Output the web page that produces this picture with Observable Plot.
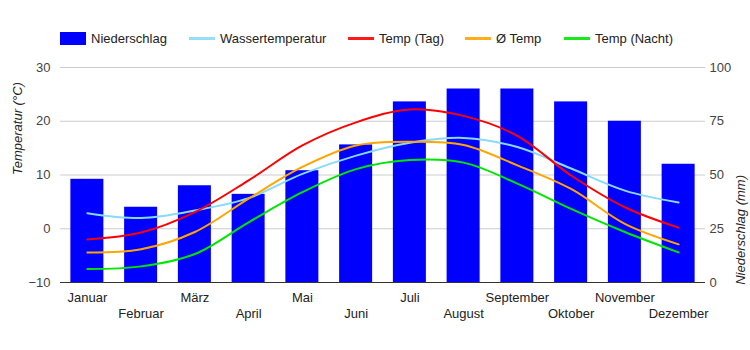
<!DOCTYPE html>
<html>
<head>
<meta charset="utf-8">
<script src="https://cdn.jsdelivr.net/npm/d3@7"></script>
<script src="https://cdn.jsdelivr.net/npm/@observablehq/plot@0.6"></script>
<style>
  body { margin: 0; background: #fff; font-family: "Liberation Sans", Arial, sans-serif; }
  #legend { position: relative; height: 50px; width: 750px; }
  .item { position: absolute; top: 30px; height: 16px; display: flex; align-items: center; font-size: 13px; color: #222; white-space: nowrap; }
  .sw { display: inline-block; width: 26px; margin-right: 5px; }
</style>
</head>
<body>
<div id="legend"></div>
<div id="chart"></div>
<script>
const months = ["Januar","Februar","März","April","Mai","Juni","Juli","August","September","Oktober","November","Dezember"];
const niederschlag = [48, 35, 45, 41, 52, 64, 84, 90, 90, 84, 75, 55];
const wassertemperatur = [2.9, 2.0, 3.4, 5.7, 10.2, 13.6, 16.0, 16.9, 15.2, 11.2, 7.1, 4.9];
const tempTag = [-2.0, -0.7, 3.1, 9.0, 15.5, 19.8, 22.2, 21.0, 17.3, 9.9, 4.0, 0.2];
const tempMittel = [-4.4, -3.8, -0.6, 5.6, 11.5, 15.5, 16.2, 15.6, 11.8, 7.4, 0.9, -2.9];
const tempNacht = [-7.5, -7.0, -4.7, 1.2, 6.8, 11.1, 12.8, 12.3, 8.4, 3.7, -0.6, -4.4];
const tempTicks = [-10, 0, 10, 20, 30];
const precipTicks = [0, 25, 50, 75, 100];

const seriesNames = ["Niederschlag", "Wassertemperatur", "Temp (Tag)", "Ø Temp", "Temp (Nacht)"];
const colors = ["#0000ff", "#88dafa", "#ff0000", "#ffa500", "#00e600"];

// legend
const legendX = [60, 189, 348, 465, 564];
const legend = document.getElementById("legend");
seriesNames.forEach((name, i) => {
  const it = document.createElement("div");
  it.className = "item";
  it.style.left = legendX[i] + "px";
  const sw = document.createElement("span");
  sw.className = "sw";
  sw.style.background = colors[i];
  sw.style.height = i === 0 ? "13px" : "3px";
  if (i > 0) sw.style.opacity = "0.9";
  it.appendChild(sw);
  it.appendChild(document.createTextNode(name));
  legend.appendChild(it);
});

// precip (0..100) mapped onto temperature axis (-10..30)
const toT = mm => -10 + mm * 0.4;
const bars = months.map((m, i) => ({month: m, v: toT(niederschlag[i])}));
const lineSeries = [
  {name: seriesNames[1], values: wassertemperatur, color: colors[1]},
  {name: seriesNames[2], values: tempTag, color: colors[2]},
  {name: seriesNames[3], values: tempMittel, color: colors[3]},
  {name: seriesNames[4], values: tempNacht, color: colors[4]}
];

const even = months.filter((d, i) => i % 2 === 0);
const odd = months.filter((d, i) => i % 2 === 1);

const chart = Plot.plot({
  width: 750,
  height: 300,
  marginLeft: 60,
  marginRight: 45,
  marginTop: 17,
  marginBottom: 68,
  style: {fontFamily: "Liberation Sans, Arial, sans-serif", fontSize: "13px", color: "#444", background: "#fff"},
  x: {domain: months, paddingInner: 0.386, paddingOuter: 0.193, round: false, axis: null},
  y: {domain: [-10, 30], axis: null},
  marks: [
    Plot.gridY(tempTicks.filter(t => t > -10), {stroke: "#cccccc", strokeOpacity: 1, strokeWidth: 1}),
    Plot.barY(bars, {x: "month", y1: -10, y2: "v", fill: colors[0]}),
    ...lineSeries.map(s => Plot.line(months.map((m, i) => ({month: m, t: s.values[i]})), {
      x: "month", y: "t", stroke: s.color, strokeWidth: 2, curve: "catmull-rom"
    })),
    Plot.ruleY([-10], {stroke: "#333", strokeWidth: 1}),
    Plot.axisY(tempTicks, {anchor: "left", tickSize: 0, tickPadding: 10, fill: "#444", fontSize: 13,
      label: null}),
    Plot.axisY(tempTicks, {anchor: "right", tickSize: 0, tickPadding: 4, fill: "#444", fontSize: 13,
      tickFormat: d => String((d + 10) * 2.5), label: null}),
    Plot.axisX(even, {tickSize: 0, tickPadding: 10, fill: "#222", fontSize: 13, label: null}),
    Plot.axisX(odd, {tickSize: 0, tickPadding: 26, fill: "#222", fontSize: 13, label: null}),
    Plot.text(["Temperatur (°C)"], {frameAnchor: "left", dx: -43, rotate: -90, fill: "#222", fontSize: 13, fontStyle: "italic"}),
    Plot.text(["Niederschlag (mm)"], {frameAnchor: "right", dx: 35, rotate: -90, fill: "#222", fontSize: 13, fontStyle: "italic"})
  ]
});
document.getElementById("chart").appendChild(chart);
</script>
</body>
</html>
